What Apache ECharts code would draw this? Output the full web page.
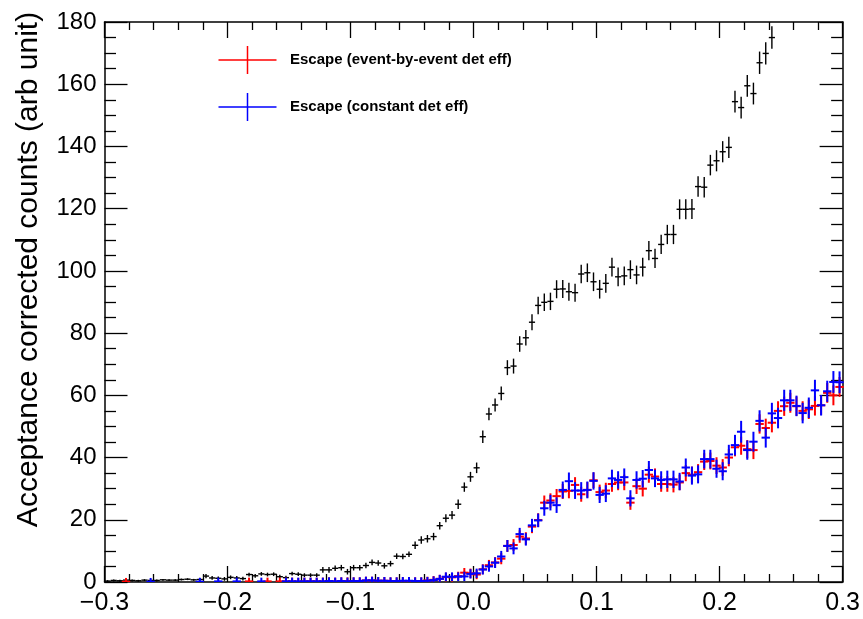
<!DOCTYPE html>
<html>
<head>
<meta charset="utf-8">
<title>Acceptance corrected counts</title>
<script src="https://cdn.jsdelivr.net/npm/echarts@6/dist/echarts.min.js"></script>
<style>
  html, body { margin: 0; padding: 0; background: #ffffff; }
  #chart { width: 863px; height: 619px; }
</style>
</head>
<body>
<div id="chart"></div>
<script>
// Histogram binning: 120 bins of width 0.005 over [-0.3, 0.3]
const BIN_LOW = -0.3;
const BIN_WIDTH = 0.005;
const N_BINS = 120;
const binCenters = Array.from({ length: N_BINS }, (_, i) => +(BIN_LOW + BIN_WIDTH * (i + 0.5)).toFixed(4));

// Total acceptance corrected counts (bins above the axis range are left out)
const totalCounts = [
  0.3, 0.5, 0.4, 0.6, 0.5, 0.4, 0.6, 0.5, 0.5, 0.7,
  0.6, 0.6, 0.8, 0.9, 0.7, 0.8, 1.9, 1.3, 1.2, 1.0,
  1.5, 1.3, 1.1, 2.4, 2.0, 2.6, 2.4, 2.5, 1.7, 1.4,
  2.7, 2.5, 2.2, 2.2, 2.2, 3.9, 3.9, 4.4, 4.6, 3.3,
  4.6, 4.6, 5.3, 6.3, 6.1, 5.2, 5.9, 8.3, 8.2, 8.9,
  11.8, 13.5, 13.9, 14.6, 18.1, 20.5, 21.5, 25.0, 30.5, 33.8,
  36.7, 46.7, 54.0, 56.9, 60.6, 68.9, 69.4, 76.5, 78.5, 83.5,
  88.9, 89.9, 90.2, 94.1, 94.2, 93.3, 93.0, 99.0, 99.4, 96.5,
  94.1, 96.0, 101.2, 98.1, 98.4, 100.4, 98.7, 101.2, 106.5, 104.0,
  108.5, 111.7, 111.7, 119.8, 119.8, 119.9, 127.1, 126.9, 134.0, 135.4,
  138.3, 139.7, 154.4, 152.5, 159.5, 157.0, 166.9, 169.9, 175.0, null,
  null, null, null, null, null, null, null, null, null, null
];
const totalErrors = [
  0.3, 0.3, 0.3, 0.3, 0.3, 0.3, 0.3, 0.3, 0.3, 0.3,
  0.3, 0.3, 0.3, 0.3, 0.3, 0.6, 0.7, 0.6, 0.6, 0.6,
  0.6, 0.6, 0.6, 0.6, 0.6, 0.6, 0.6, 0.6, 0.6, 0.6,
  0.6, 0.6, 0.6, 0.6, 0.6, 0.9, 0.9, 0.9, 0.9, 0.9,
  0.9, 0.9, 0.9, 0.9, 0.9, 0.9, 0.9, 0.9, 0.9, 0.9,
  1.2, 1.2, 1.2, 1.2, 1.2, 1.3, 1.3, 1.5, 1.5, 1.6,
  1.7, 2.0, 2.0, 2.1, 2.2, 2.4, 2.4, 2.5, 2.5, 2.6,
  2.8, 2.8, 2.8, 2.9, 2.9, 2.9, 2.9, 3.0, 3.0, 3.0,
  3.0, 3.0, 3.0, 3.0, 3.0, 3.0, 3.0, 3.0, 3.1, 3.1,
  3.1, 3.1, 3.1, 3.2, 3.2, 3.2, 3.3, 3.3, 3.3, 3.4,
  3.4, 3.4, 3.5, 3.5, 3.5, 3.5, 3.6, 3.6, 3.6, null,
  null, null, null, null, null, null, null, null, null, null
];

// Escape, event-by-event detector efficiency (empty bins are null)
const escapeEventCounts = [
  null, null, null, 0.1, null, null, null, null, null, null,
  null, null, null, null, null, null, null, null, null, null,
  null, null, null, 0.2, null, null, 0.2, null, 0.2, 0.2,
  0.2, 0.1, 0.2, 0.2, 0.2, 0.2, 0.3, 0.2, 0.3, 0.3,
  0.3, 0.3, 0.5, 0.5, 0.4, 0.4, 0.3, 0.3, 0.3, 0.3,
  0.3, 0.3, 0.5, 0.7, 1.0, 1.6, 1.5, 1.9, 3.0, 2.8,
  2.4, 4.1, 5.4, 6.3, 7.5, 11.6, 11.9, 14.6, 14.0, 17.8,
  19.9, 25.5, 26.2, 27.6, 29.1, 29.3, 31.2, 28.2, 29.6, 32.7,
  28.9, 29.4, 31.5, 32.0, 32.0, 25.5, 30.8, 30.0, 34.5, 33.9,
  31.5, 31.5, 31.3, 32.0, 35.0, 34.5, 35.3, 38.7, 38.9, 37.4,
  36.8, 40.0, 43.3, 43.8, 42.7, 42.4, 50.8, 49.5, 51.2, 55.0,
  56.5, 57.6, 56.5, 55.0, 55.5, 56.6, 56.8, 60.8, 60.0, 62.7
];
const escapeEventErrors = [
  null, null, null, 1.2, null, null, null, null, null, null,
  null, null, null, null, null, null, null, null, null, null,
  null, null, null, 1.2, null, null, 1.2, null, 1.2, 1.2,
  1.2, 1.2, 1.2, 1.2, 1.2, 1.2, 1.2, 1.2, 1.2, 1.2,
  1.2, 1.2, 1.2, 1.2, 1.2, 1.2, 1.2, 1.2, 1.2, 1.2,
  1.2, 1.2, 1.2, 1.2, 1.3, 1.4, 1.4, 1.4, 1.5, 1.5,
  1.5, 1.6, 1.7, 1.7, 1.8, 1.9, 1.9, 2.0, 2.0, 2.1,
  2.2, 2.3, 2.3, 2.3, 2.4, 2.4, 2.5, 2.4, 2.5, 2.5,
  2.4, 2.5, 2.5, 2.5, 2.5, 2.3, 2.5, 2.5, 2.6, 2.6,
  2.5, 2.5, 2.5, 2.5, 2.6, 2.6, 2.6, 2.7, 2.7, 2.7,
  2.7, 2.8, 2.9, 2.9, 2.9, 2.9, 3.1, 3.0, 3.1, 3.1,
  3.1, 3.2, 3.1, 3.1, 3.1, 3.1, 3.1, 3.2, 3.2, 3.2
];

// Escape, constant detector efficiency (empty bins are null)
const escapeConstCounts = [
  null, null, null, null, null, null, null, 0.1, null, null,
  null, null, null, null, null, 0.1, null, null, 0.2, null,
  null, 0.2, null, null, null, 0.2, null, null, null, 0.2,
  0.2, 0.2, 0.2, 0.2, 0.2, 0.2, 0.3, 0.2, 0.3, 0.2,
  0.3, 0.3, 0.5, 0.5, 0.4, 0.4, 0.3, 0.3, 0.4, 0.4,
  0.3, 0.3, 0.4, 0.6, 1.0, 1.7, 1.7, 1.7, 1.8, 2.6,
  2.8, 4.0, 5.0, 6.2, 8.2, 11.6, 10.8, 15.4, 13.7, 18.2,
  19.8, 23.7, 25.5, 24.7, 29.6, 32.4, 29.4, 29.4, 29.6, 32.5,
  28.0, 28.4, 33.3, 32.8, 33.7, 26.9, 32.8, 33.2, 36.0, 33.3,
  32.8, 33.0, 33.0, 32.3, 36.8, 34.2, 34.6, 39.5, 39.5, 36.4,
  35.6, 41.0, 44.0, 48.3, 42.4, 45.1, 51.8, 46.4, 54.2, 52.7,
  58.4, 58.4, 56.6, 54.3, 56.0, 61.6, 56.8, 61.3, 64.3, 64.2
];
const escapeConstErrors = [
  null, null, null, null, null, null, null, 1.2, null, null,
  null, null, null, null, null, 1.2, null, null, 1.2, null,
  null, 1.2, null, null, null, 1.2, null, null, null, 1.2,
  1.2, 1.2, 1.2, 1.2, 1.2, 1.2, 1.2, 1.2, 1.2, 1.2,
  1.2, 1.2, 1.2, 1.2, 1.2, 1.2, 1.2, 1.2, 1.2, 1.2,
  1.2, 1.2, 1.2, 1.2, 1.3, 1.4, 1.4, 1.4, 1.5, 1.5,
  1.5, 1.6, 1.7, 1.7, 1.8, 1.9, 1.9, 2.0, 2.0, 2.1,
  2.2, 2.4, 2.5, 2.5, 2.7, 2.8, 2.7, 2.7, 2.7, 2.8,
  2.6, 2.7, 2.8, 2.8, 2.8, 2.6, 2.8, 2.8, 2.9, 2.8,
  2.8, 2.8, 2.8, 2.8, 2.9, 2.9, 2.9, 3.0, 3.0, 2.9,
  2.9, 3.1, 3.3, 3.5, 3.1, 3.2, 3.4, 3.2, 3.4, 3.3,
  3.4, 3.4, 3.3, 3.3, 3.3, 3.4, 3.3, 3.4, 3.5, 3.5
];

// Axis tick labels
const xTickLabels = ['\u22120.3', '\u22120.2', '\u22120.1', '0.0', '0.1', '0.2', '0.3'];
const yTickLabels = ['0', '20', '40', '60', '80', '100', '120', '140', '160', '180'];

const seriesNames = ['Escape (event-by-event det eff)', 'Escape (constant det eff)'];
const FONT = '"Liberation Sans", Arial, Helvetica, sans-serif';

// Build [x, y, err] triples for the non-empty bins
function toPoints(counts, errors) {
  const pts = [];
  for (let i = 0; i < N_BINS; i++) {
    if (counts[i] !== null && counts[i] !== undefined) {
      pts.push([binCenters[i], counts[i], errors[i] || 0]);
    }
  }
  return pts;
}

// Draw each point as a cross: horizontal bar across the bin, vertical bar for the error
function crossRenderer(halfWidth, color, lineWidth) {
  return function (params, api) {
    const x = api.value(0);
    const y = api.value(1);
    const e = api.value(2);
    const c = api.coord([x, y]);
    const l = api.coord([x - halfWidth, y]);
    const r = api.coord([x + halfWidth, y]);
    const t = api.coord([x, y + e]);
    const b = api.coord([x, y - e]);
    const style = { stroke: color, lineWidth: lineWidth, fill: null };
    return {
      type: 'group',
      children: [
        { type: 'line', shape: { x1: l[0], y1: c[1], x2: r[0], y2: c[1] }, style: style },
        { type: 'line', shape: { x1: c[0], y1: t[1], x2: c[0], y2: b[1] }, style: style }
      ]
    };
  };
}

const axisLineStyle = { color: '#000000', width: 1.5 };

function xAxisDef(position, showLabels) {
  return {
    type: 'value', position: position,
    min: -0.3, max: 0.3, interval: 0.1,
    axisLine: { show: true, onZero: false, lineStyle: axisLineStyle },
    axisTick: { show: true, inside: true, length: 16, lineStyle: { color: '#000', width: 1.3 } },
    minorTick: { show: true, splitNumber: 5, length: 8, lineStyle: { color: '#000', width: 1.3 } },
    splitLine: { show: false }, minorSplitLine: { show: false },
    axisLabel: {
      show: showLabels, color: '#000', fontFamily: FONT, fontSize: 25, margin: 9,
      formatter: v => xTickLabels[Math.round((v + 0.3) / 0.1)]
    }
  };
}
function yAxisDef(position, showLabels) {
  return {
    type: 'value', position: position,
    min: 0, max: 180, interval: 20,
    axisLine: { show: true, onZero: false, lineStyle: axisLineStyle },
    axisTick: { show: true, inside: true, length: 23, lineStyle: { color: '#000', width: 1.3 } },
    minorTick: { show: true, splitNumber: 4, length: 11.5, lineStyle: { color: '#000', width: 1.3 } },
    splitLine: { show: false }, minorSplitLine: { show: false },
    axisLabel: {
      show: showLabels, color: '#000', fontFamily: FONT, fontSize: 24, margin: 8,
      formatter: v => yTickLabels[Math.round(v / 20)]
    }
  };
}

const chart = echarts.init(document.getElementById('chart'), null, { renderer: 'canvas' });

chart.setOption({
  animation: false,
  backgroundColor: '#ffffff',
  grid: { left: 104.5, right: 20, top: 22, bottom: 37, containLabel: false },
  xAxis: [xAxisDef('bottom', true), xAxisDef('top', false)],
  yAxis: [yAxisDef('left', true), yAxisDef('right', false)],
  series: [
    {
      name: 'Total', type: 'custom', clip: true,
      xAxisIndex: 0, yAxisIndex: 0,
      renderItem: crossRenderer(BIN_WIDTH / 2, '#000000', 1.4),
      data: toPoints(totalCounts, totalErrors)
    },
    {
      name: seriesNames[0], type: 'custom', clip: true,
      xAxisIndex: 0, yAxisIndex: 0,
      renderItem: crossRenderer(0.0034, '#ff0000', 2),
      data: toPoints(escapeEventCounts, escapeEventErrors)
    },
    {
      name: seriesNames[1], type: 'custom', clip: true,
      xAxisIndex: 0, yAxisIndex: 0,
      renderItem: crossRenderer(0.0034, '#0000ff', 2),
      data: toPoints(escapeConstCounts, escapeConstErrors)
    }
  ],
  graphic: [
    // y axis title
    {
      type: 'text', x: 29, y: 269.5, rotation: Math.PI / 2,
      style: {
        text: 'Acceptance corrected counts (arb unit)',
        font: '30px ' + FONT, fill: '#000',
        textAlign: 'center', textVerticalAlign: 'middle'
      }
    },
    // legend entries
    { type: 'line', shape: { x1: 218.5, y1: 60, x2: 276.5, y2: 60 }, style: { stroke: '#ff0000', lineWidth: 1.5 } },
    { type: 'line', shape: { x1: 247.5, y1: 46, x2: 247.5, y2: 74 }, style: { stroke: '#ff0000', lineWidth: 1.5 } },
    {
      type: 'text', x: 290, y: 60,
      style: { text: seriesNames[0], font: 'bold 15px ' + FONT, fill: '#000', textAlign: 'left', textVerticalAlign: 'middle' }
    },
    { type: 'line', shape: { x1: 218.5, y1: 107, x2: 276.5, y2: 107 }, style: { stroke: '#0000ff', lineWidth: 1.5 } },
    { type: 'line', shape: { x1: 247.5, y1: 93, x2: 247.5, y2: 121 }, style: { stroke: '#0000ff', lineWidth: 1.5 } },
    {
      type: 'text', x: 290, y: 107,
      style: { text: seriesNames[1], font: 'bold 15px ' + FONT, fill: '#000', textAlign: 'left', textVerticalAlign: 'middle' }
    }
  ]
});
</script>
</body>
</html>
